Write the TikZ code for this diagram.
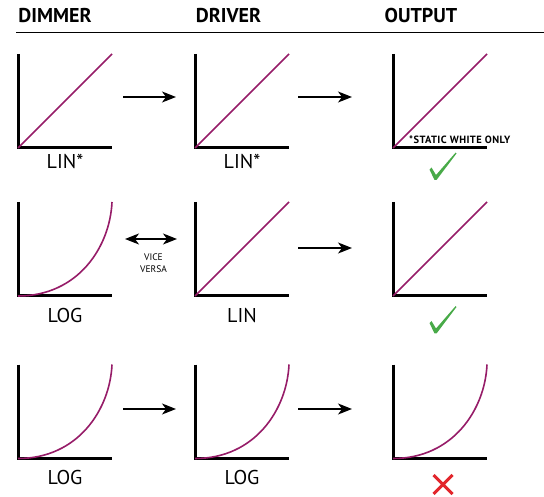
\documentclass[tikz,border=0pt]{standalone}
\usepackage{fontspec}
\setmainfont{PT Sans}
\usetikzlibrary{arrows.meta,positioning}

\definecolor{curvepurple}{RGB}{150,28,104}
\definecolor{okgreen}{RGB}{72,170,72}
\definecolor{badred}{RGB}{226,38,44}

\begin{document}
\begin{tikzpicture}[x=1pt, y=-1pt,
    panel/.style={minimum width=94pt, minimum height=94pt, inner sep=0pt, outer sep=0pt},
    axis/.style={line width=3pt},
    lincurve/.style={draw=curvepurple, line width=1.6pt},
    logcurve/.style={lincurve},
    head/.style={font=\bfseries\fontsize{20}{24}\selectfont, anchor=base, inner sep=0pt},
    lbl/.style={font=\fontsize{20}{24}\selectfont, inner sep=0pt},
    note/.style={font=\bfseries\fontsize{10.5}{12}\selectfont\addfontfeatures{LetterSpace=4}, inner sep=0pt},
    vv/.style={font=\fontsize{9.5}{12.5}\selectfont, inner sep=0pt, align=center},
    tip/.style={-{Stealth[length=14pt, width=11pt, inset=4pt]}, line width=1.4pt},
    arrA/.style={tip, shorten <=11pt, shorten >=19pt},
    arrB/.style={tip, shorten <=9pt, shorten >=41pt},
    tick/.pic={\fill[okgreen] (-13.5,3) -- (-8.5,13.5) -- (-6.5,13.5) -- (13.5,-13)
                 -- (12.5,-13.8) -- (-7,8.5) -- (-11.5,1) -- cycle;},
    cross/.pic={\draw[badred, line width=3pt] (-9.5,-9.5) -- (9.5,9.5) (-9.5,9.5) -- (9.5,-9.5);},
  ]
  \useasboundingbox (0,0) rectangle (544,497);

  % column heads
  \node[head] (hdim) at (55,22.7) {DIMMER};
  \node[head] (hdrv) at (228.5,22.7) {DRIVER};
  \node[head] (hout) at (421,22.7) {OUTPUT};
  \draw[line width=1.5pt] (16,32.5) -- (544,32.5);

  % panels and axes
  \foreach \r/\y in {1/101,2/249,3/411.5} {
    \foreach \c/\x in {1/65,2/242,3/440} {
      \node[panel] (p\r\c) at (\x,\y) {};
      \draw[axis] (p\r\c.north west) |- (p\r\c.south east);
    }
  }

  % response curves
  \foreach \p in {11,12,13,22,23}
    \draw[lincurve] (p\p.south west) -- (p\p.north east);
  \foreach \p in {21,31,32,33}
    \draw[logcurve] (p\p.south west) .. controls +(60,0) and +(-2,45) .. (p\p.north east);

  % labels
  \node[lbl, below=6pt of p11] (l11) {LIN*};
  \node[lbl, below=6pt of p12] (l12) {LIN*};
  \node[lbl, below=12pt of p21] (l21) {LOG};
  \node[lbl, below=12pt of p22] (l22) {LIN};
  \node[lbl, below=12pt of p31] (l31) {LOG};
  \node[lbl, below=12pt of p32] (l32) {LOG};
  \node[note, anchor=base west] (n13) at ([shift={(16,-4)}]p13.south west) {*STATIC WHITE ONLY};

  % arrows
  \foreach \r/\dy in {1/4,3/2.5}
    \draw[arrA] ([yshift=\dy pt]p\r1.east) -- ([yshift=\dy pt]p\r2.west);
  \foreach \r/\dy in {1/4,2/1,3/2.5}
    \draw[arrB] ([yshift=\dy pt]p\r2.east) -- ([yshift=\dy pt]p\r3.west);
  \draw[{Stealth[length=14pt, width=11pt, inset=4pt]}-{Stealth[length=14pt, width=11pt, inset=4pt]},
        line width=1.4pt, shorten <=13pt, shorten >=18pt]
    ([yshift=10pt]p21.east) -- ([yshift=10pt]p22.west)
    node[vv, midway, below=14pt] (vv) {VICE\\VERSA};

  % results
  \pic at ([shift={(3,18.5)}]p13.south) {tick};
  \pic at ([shift={(3,24)}]p23.south) {tick};
  \pic at ([shift={(3,26)}]p33.south) {cross};
\end{tikzpicture}
\end{document}
